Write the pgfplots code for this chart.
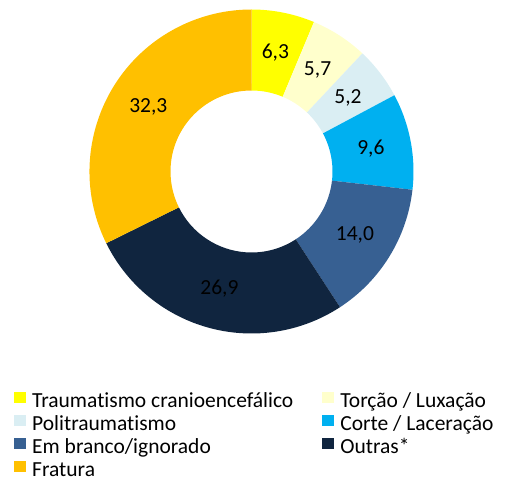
\documentclass[border=0pt]{standalone}
\usepackage{pgfplots}
\pgfplotsset{compat=1.18}
\usepackage{pgfplotstable}
\usepackage{fontspec}
\setmainfont{Carlito}[Ligatures=NoCommon]
\definecolor{cTCE}{HTML}{FFFF00}
\definecolor{cTor}{HTML}{FFFFCC}
\definecolor{cPol}{HTML}{DAEEF3}
\definecolor{cCor}{HTML}{00B0F0}
\definecolor{cEmb}{HTML}{376092}
\definecolor{cOut}{HTML}{10253F}
\definecolor{cFra}{HTML}{FFC000}

\pgfplotstableread{
value colour
6.3 cTCE
5.7 cTor
5.2 cPol
9.6 cCor
14.0 cEmb
26.9 cOut
32.3 cFra
}\slices

\pgfplotsset{sq/.style={legend image code/.code={\fill[##1, draw=none] (0bp,0bp) rectangle (12bp,11bp);}}}

\begin{document}
\begin{tikzpicture}[font=\fontsize{21.5bp}{24bp}\selectfont]
\begin{axis}[x=1bp,y=1bp, xmin=-251.5, xmax=253.5, ymin=-310.5, ymax=171.5,
  hide axis, clip=false, at={(0,0)}, anchor=south west,
  legend columns=2, legend cell align=left,
  legend style={at={(axis cs:-237.5,-220)}, anchor=north west, draw=none, fill=none,
    inner sep=0pt, font=\fontsize{21.5bp}{24bp}\selectfont, row sep=2bp,
    nodes={inner sep=0pt, text height=15bp, text depth=5bp},
    /tikz/every odd column/.append style={column sep=6bp},
    /tikz/every even column/.append style={column sep=29bp}},
]
\pgfplotsextra{
  \gdef\cum{0}
  \pgfplotstablegetrowsof{\slices}
  \pgfmathtruncatemacro\nrows{\pgfplotsretval-1}
  \foreach \i in {0,...,\nrows}{
    \pgfplotstablegetelem{\i}{value}\of\slices \let\v\pgfplotsretval
    \pgfplotstablegetelem{\i}{colour}\of\slices \let\c\pgfplotsretval
    \pgfmathsetmacro\aA{90-3.6*\cum}
    \pgfmathsetmacro\aB{90-3.6*(\cum+\v)}
    \pgfmathsetmacro\aM{(\aA+\aB)/2}
    \pgfmathsetmacro\xA{162*cos(\aA)}\pgfmathsetmacro\yA{162*sin(\aA)}
    \pgfmathsetmacro\xB{81*cos(\aB)}\pgfmathsetmacro\yB{81*sin(\aB)}
    \pgfmathsetmacro\xM{121.5*cos(\aM)}\pgfmathsetmacro\yM{121.5*sin(\aM)}
    \fill[\c] (axis cs:\xA,\yA) arc[start angle=\aA, end angle=\aB, radius=162bp]
       -- (axis cs:\xB,\yB) arc[start angle=\aB, end angle=\aA, radius=81bp] -- cycle;
    \node[text=black] at (axis cs:\xM,\yM) {\pgfmathprintnumber[use comma,fixed,fixed zerofill,precision=1,assume math mode=true]{\v}};
    \pgfmathsetmacro\newcum{\cum+\v}\xdef\cum{\newcum}
  }
}
\addlegendimage{sq, fill=cTCE}\addlegendentry{Traumatismo cranioencefálico}
\addlegendimage{sq, fill=cTor}\addlegendentry{Torção / Luxação}
\addlegendimage{sq, fill=cPol}\addlegendentry{Politraumatismo}
\addlegendimage{sq, fill=cCor}\addlegendentry{Corte / Laceração}
\addlegendimage{sq, fill=cEmb}\addlegendentry{Em branco/ignorado}
\addlegendimage{sq, fill=cOut}\addlegendentry{Outras*}
\addlegendimage{sq, fill=cFra}\addlegendentry{Fratura}
\end{axis}
\pgfresetboundingbox
\useasboundingbox (0,0) rectangle (505bp,482bp);
\end{tikzpicture}
\end{document}
